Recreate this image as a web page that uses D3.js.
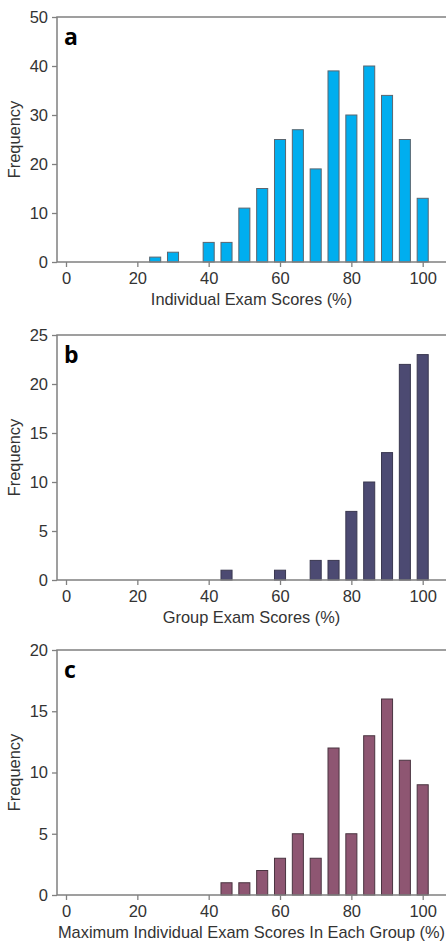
<!DOCTYPE html>
<html>
<head>
<meta charset="utf-8">
<script src="https://cdn.jsdelivr.net/npm/d3@7"></script>
<style>
  body { margin: 0; background: #fff; }
  svg { display: block; }
  .tick text { font-family: "Liberation Sans", Arial, sans-serif; font-size: 16.5px; fill: #333; }
  .tick line { stroke: #808080; stroke-width: 1.3; }
  .ttl { font-family: "Liberation Sans", Arial, sans-serif; font-size: 16.4px; fill: #333; }
  .lbl { font-family: "Open Sans", sans-serif; font-weight: bold; font-size: 23px; fill: #000; }
</style>
</head>
<body>
<svg id="chart" width="446" height="942"></svg>
<script>
// bin centres (score %)
var binsA = [25, 30, 35, 40, 45, 50, 55, 60, 65, 70, 75, 80, 85, 90, 95, 100];
var countsA = [1, 2, 0, 4, 4, 11, 15, 25, 27, 19, 39, 30, 40, 34, 25, 13];

var binsB = [45, 60, 70, 75, 80, 85, 90, 95, 100];
var countsB = [1, 1, 2, 2, 7, 10, 13, 22, 23];

var binsC = [45, 50, 55, 60, 65, 70, 75, 80, 85, 90, 95, 100];
var countsC = [1, 1, 2, 3, 5, 3, 12, 5, 13, 16, 11, 9];

var xTicks = [0, 20, 40, 60, 80, 100];

var panels = [
  {label: "a", bins: binsA, counts: countsA, ymax: 50, yticks: [0, 10, 20, 30, 40, 50],
   fill: "#00aeef", stroke: "#5a6670", title: "Individual Exam Scores (%)", top: 17},
  {label: "b", bins: binsB, counts: countsB, ymax: 25, yticks: [0, 5, 10, 15, 20, 25],
   fill: "#4c4a72", stroke: "#3a3850", title: "Group Exam Scores (%)", top: 335},
  {label: "c", bins: binsC, counts: countsC, ymax: 20, yticks: [0, 5, 10, 15, 20],
   fill: "#8e5672", stroke: "#4a3440", title: "Maximum Individual Exam Scores In Each Group (%)", top: 650}
];

var svg = d3.select("#chart"),
    left = 57, right = 446, h = 245,
    barW = 3.1; // in score units

var x = d3.scaleLinear().domain([0, 100]).range([66, 422.7]);

panels.forEach(function (p) {
  var g = svg.append("g").attr("transform", "translate(0," + p.top + ")");
  var y = d3.scaleLinear().domain([0, p.ymax]).range([h, 0]);

  var data = p.bins.map(function (b, i) { return {bin: b, n: p.counts[i]}; });

  g.selectAll("rect")
    .data(data.filter(function (d) { return d.n > 0; }))
    .enter()
    .append("rect")
    .attr("x", function (d) { return x(d.bin - barW / 2); })
    .attr("width", x(barW) - x(0))
    .attr("y", function (d) { return y(d.n); })
    .attr("height", function (d) { return y(0) - y(d.n); })
    .attr("fill", p.fill)
    .attr("stroke", p.stroke)
    .attr("stroke-width", 1);

  var ya = g.append("g")
    .attr("transform", "translate(" + left + ",0)")
    .call(d3.axisLeft(y).tickValues(p.yticks).tickSize(5).tickPadding(4));
  ya.select(".domain").remove();

  var xa = g.append("g")
    .attr("transform", "translate(0," + h + ")")
    .call(d3.axisBottom(x).tickValues(xTicks).tickSize(5).tickPadding(5));
  xa.select(".domain").remove();

  // frame: left, top, bottom
  g.append("path")
    .attr("d", "M" + right + ",0H" + left + "V" + h + "H" + right)
    .attr("fill", "none")
    .attr("stroke", "#808080")
    .attr("stroke-width", 1.5);

  g.append("text")
    .attr("class", "lbl")
    .attr("x", 64)
    .attr("y", 28)
    .text(p.label);

  g.append("text")
    .attr("class", "ttl")
    .attr("text-anchor", "middle")
    .attr("x", (left + right) / 2)
    .attr("y", h + 43)
    .text(p.title);

  g.append("text")
    .attr("class", "ttl")
    .attr("text-anchor", "middle")
    .attr("transform", "translate(20," + (h / 2) + ") rotate(-90)")
    .text("Frequency");
});
</script>
</body>
</html>
